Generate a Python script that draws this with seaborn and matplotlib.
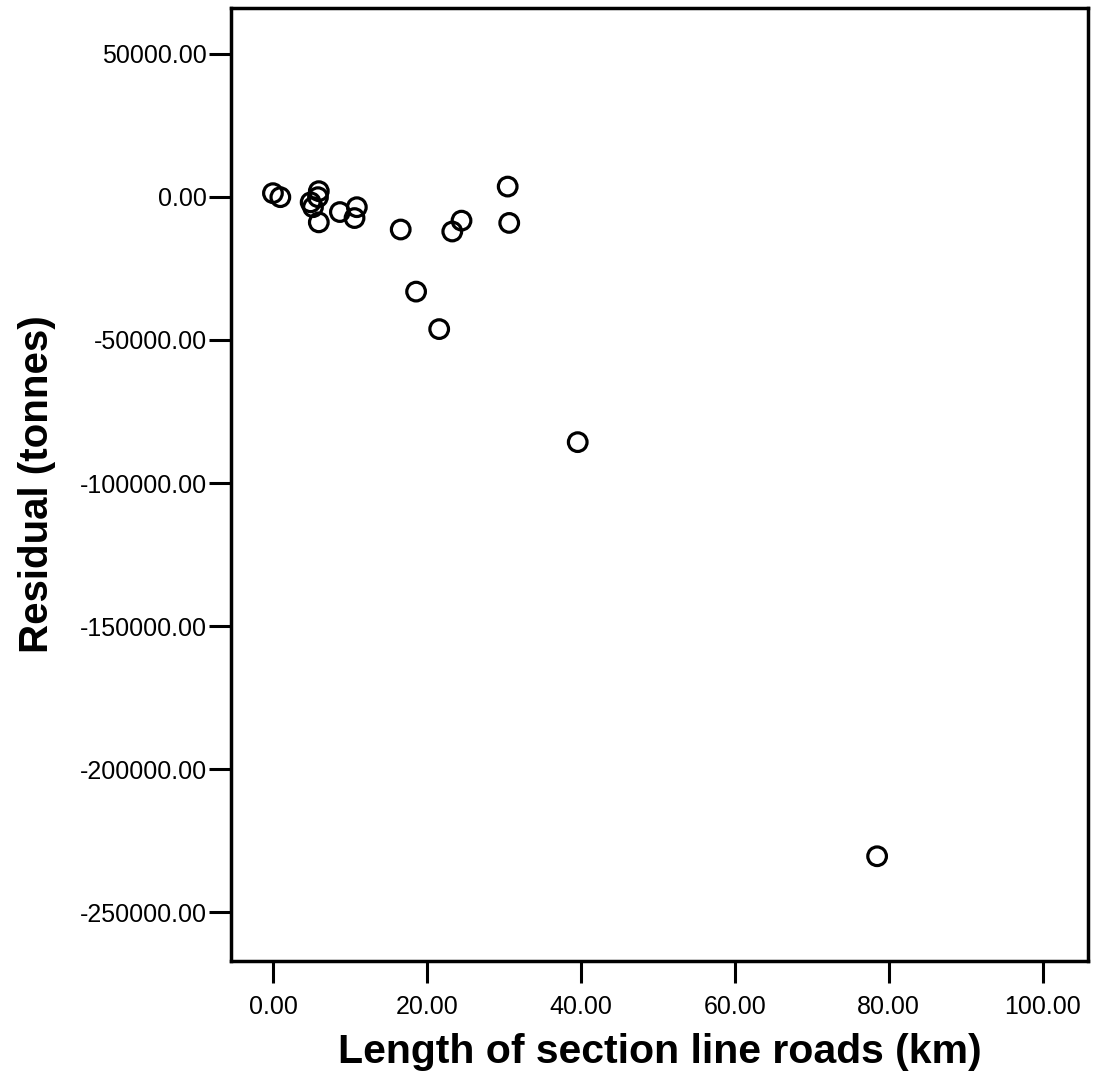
import matplotlib
matplotlib.use("Agg")
import matplotlib.pyplot as plt
import seaborn as sns
import pandas as pd

sns.set_style("white")
plt.rcParams['font.family'] = ['Liberation Sans', 'DejaVu Sans']
plt.rcParams['text.color'] = 'black'
plt.rcParams['axes.labelcolor'] = 'black'

road_km = [0.0, 0.96, 5.96, 4.9, 5.2, 5.85, 5.96, 8.7, 10.9, 10.6, 16.6,
           23.3, 24.5, 30.5, 30.7, 18.6, 21.6, 39.6, 78.5]
residual = [1300, -100, 2000, -1900, -3600, -100, -8900, -5300, -3600, -7400,
            -11400, -12100, -8300, 3600, -9100, -33100, -46200, -85700, -230400]

df = pd.DataFrame({"x": road_km, "y": residual})

fig = plt.figure(figsize=(11.02, 10.78), dpi=100)
ax = fig.add_axes([231/1102, 1-961/1078, (1088-231)/1102, (961-8)/1078])

sns.scatterplot(data=df, x="x", y="y", ax=ax, s=180, facecolor="none",
                edgecolor="black", linewidth=2.3, marker="o")

ax.set_xlim(-5.45, 105.9)
ax.set_ylim(-267000, 66000)
xt = [0, 20, 40, 60, 80, 100]
yt = [50000, 0, -50000, -100000, -150000, -200000, -250000]
ax.set_xticks(xt)
ax.set_xticklabels([f"{v:.2f}" for v in xt])
ax.set_yticks(yt)
ax.set_yticklabels([f"{v:.2f}" for v in yt])
ax.tick_params(direction="out", length=15.5, width=2.2, labelsize=18,
               color="black", labelcolor="black", bottom=True, left=True)
ax.tick_params(axis="x", pad=9)
ax.tick_params(axis="y", pad=2)
for sp in ax.spines.values():
    sp.set_linewidth(2.5)
    sp.set_color("black")
ax.set_xlabel("Length of section line roads (km)", fontsize=29.5, fontweight="bold",
              labelpad=10, color="black")
ax.set_ylabel("Residual (tonnes)", fontsize=29, fontweight="bold",
              labelpad=17, color="black")
ax.grid(False)

fig.savefig("out.png", dpi=100)
